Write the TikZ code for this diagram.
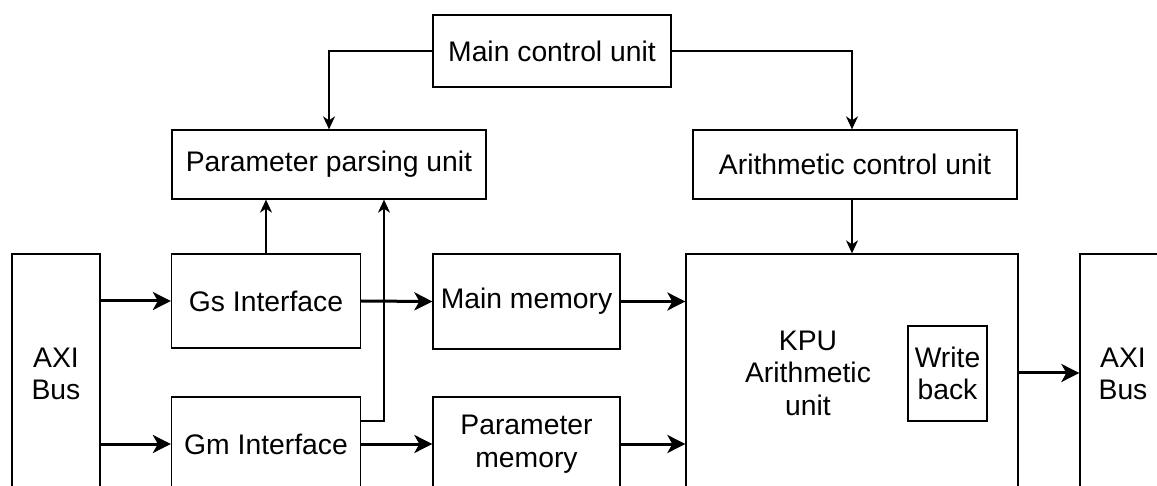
\documentclass[tikz,border=0pt]{standalone}
\usepackage{fontspec}
\setmainfont{Liberation Sans}
\usetikzlibrary{arrows.meta}
\begin{document}
\begin{tikzpicture}[x=1pt,y=-1pt,
  lbl/.style={font=\fontsize{28.3}{32.5}\selectfont,align=center},
  blk/.style={lbl,draw,line width=1.3pt,rectangle,inner sep=0pt},
  data/.style={line width=3pt,-{Stealth[length=18pt,width=18pt,inset=5pt]}},
  ctrl/.style={line width=1.5pt,-{Stealth[length=13pt,width=12pt,inset=4pt]}}]
\path[use as bounding box,clip] (0,0) rectangle (1157,486);

% control units
\node[blk,minimum width=238pt,minimum height=72pt] (mcu) at (552,51) {Main control unit};
\node[blk,minimum width=314pt,minimum height=69pt] (ppu) at (329,164.5) {Parameter parsing unit};
\node[blk,minimum width=324pt,minimum height=69pt] (acu) at (855,164.5) {Arithmetic control unit};

% bus boxes (running off the lower edge)
\node[blk,minimum width=88pt,minimum height=240pt] (axil) at (56,374) {AXI\\Bus};
\node[blk,minimum width=86pt,minimum height=240pt] (axir) at (1123,374) {AXI\\Bus};

% interfaces and memories
\node[blk,minimum width=189pt,minimum height=94pt] (gs) at (266,301) {Gs Interface};
\node[blk,minimum width=189pt,minimum height=94pt] (gm) at (266,444) {Gm Interface};
\node[blk,minimum width=187pt,minimum height=95pt] (mm) at (526.5,301.5) {Main memory};
\node[blk,minimum width=187pt,minimum height=94pt] (pm) at (526.5,444) {Parameter\\memory};

% arithmetic unit with write-back stage
\node[blk,minimum width=332pt,minimum height=238pt] (kpu) at (852,373) {};
\node[lbl] (kputxt) at (808,373) {KPU\\Arithmetic\\unit};
\node[blk,minimum width=79pt,minimum height=95pt] (wb) at (947.5,373.5) {Write\\back};

% routing points
\coordinate (ctl) at (852,0);
\coordinate (gmtap) at (384,421);

% data paths
\draw[data] (axil.east |- gs) -- (gs.west);
\draw[data] (axil.east |- gm) -- (gm.west);
\draw[data] (gs.east) -- (mm.west);
\draw[data] (gm.east) -- (pm.west);
\draw[data] (mm.east) -- (kpu.west |- mm);
\draw[data] (pm.east) -- (kpu.west |- pm);
\draw[data] (kpu.east) -- (axir.west |- kpu);

% control paths
\draw[ctrl] (mcu.west) -| (ppu.north);
\draw[ctrl] (mcu.east) -| (ctl |- acu.north);
\draw[ctrl] (ctl |- acu.south) -- (ctl |- kpu.north);
\draw[ctrl] (gs.north) -- (gs.north |- ppu.south);
\draw[ctrl] (gm.east |- gmtap) -- (gmtap) -- (gmtap |- ppu.south);
\end{tikzpicture}
\end{document}
